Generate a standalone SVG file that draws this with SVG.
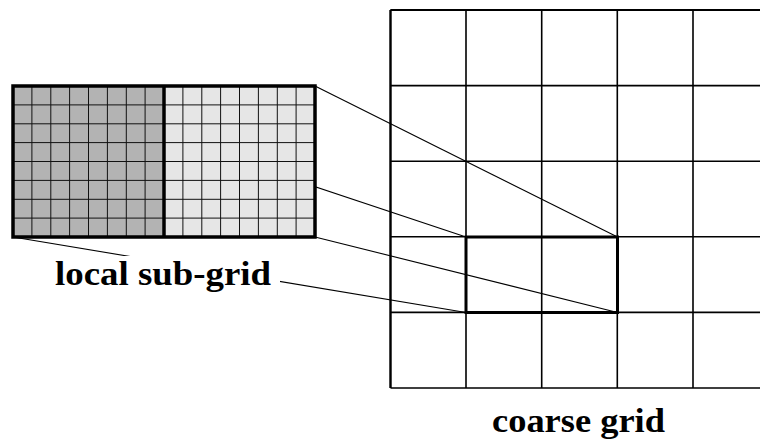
<svg xmlns="http://www.w3.org/2000/svg" width="760" height="441" viewBox="0 0 760 441">
<style>
.conn{stroke:#000;stroke-width:1.1;fill:none}
.cg{stroke:#000;stroke-width:1.6;fill:none}
.sub{stroke:#111;stroke-width:1;fill:none}
.thick{stroke:#000;stroke-width:3.5;fill:none}
.lbl{font-weight:bold;font-size:33px;fill:#000}
</style>
<rect width="760" height="441" fill="#fff"/>
<g id="connectors">
<line class="conn" x1="13" y1="86" x2="466" y2="237"/>
<line class="conn" x1="315" y1="86" x2="617.5" y2="237"/>
<line class="conn" x1="315" y1="237" x2="617.5" y2="312.5"/>
<line class="conn" x1="13" y1="237" x2="466" y2="312.5"/>
</g>
<g id="coarse-grid">
<path class="cg" d="M390.5 10V388M466 10V388M541.7 10V388M617.3 10V388M693 10V388M768.6 10V388M390.5 10H768.6M390.5 85.6H768.6M390.5 161.2H768.6M390.5 236.8H768.6M390.5 312.4H768.6M390.5 388H768.6"/>
<path d="M390.5 10V388M390.5 10H768.6" stroke="#000" stroke-width="2.2" fill="none"/>
</g>
<g id="coarse-cell">
<rect x="466" y="237" width="151.5" height="75.5" fill="none" stroke="#000" stroke-width="3"/>
</g>
<g id="local-grid">
<rect x="13" y="86" width="151" height="151" fill="#b3b3b3"/>
<rect x="164" y="86" width="151" height="151" fill="#e6e6e6"/>
<path class="sub" d="M31.9 86V237M50.8 86V237M69.6 86V237M88.5 86V237M107.4 86V237M126.3 86V237M145.1 86V237M182.9 86V237M201.8 86V237M220.6 86V237M239.5 86V237M258.4 86V237M277.3 86V237M296.1 86V237M13 104.9H315M13 123.8H315M13 142.6H315M13 161.5H315M13 180.4H315M13 199.3H315M13 218.1H315"/>
<rect class="thick" x="13" y="86" width="302" height="151"/>
<line class="thick" x1="164" y1="86" x2="164" y2="237" stroke-width="3"/>
</g>
<g id="label-local">
<rect x="45" y="256" width="235" height="40" fill="#fff"/>
<text class="lbl" font-family="'Liberation Serif', 'DejaVu Serif', serif" x="55" y="284.5" textLength="216" lengthAdjust="spacingAndGlyphs">local sub-grid</text>
</g>
<g id="label-coarse">
<text class="lbl" font-family="'Liberation Serif', 'DejaVu Serif', serif" x="492" y="432" textLength="173" lengthAdjust="spacingAndGlyphs">coarse grid</text>
</g>
</svg>
